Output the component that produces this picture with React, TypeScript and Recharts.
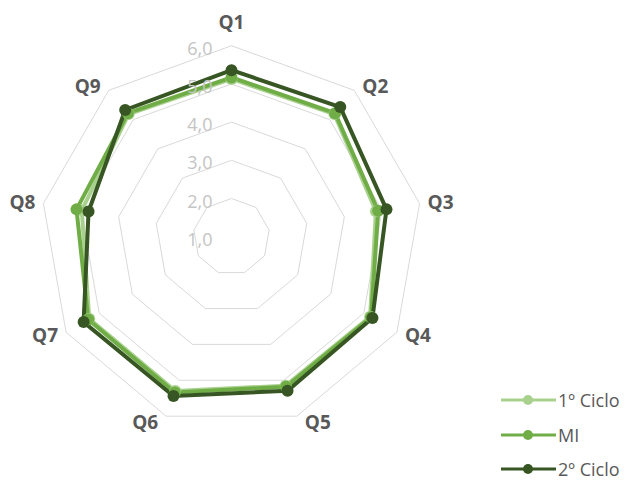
import React from "react";
import {
  RadarChart,
  Radar,
  PolarGrid,
  PolarAngleAxis,
  PolarRadiusAxis,
  Legend,
} from "recharts";

// Questions on the angular axis
const questions = ["Q1", "Q2", "Q3", "Q4", "Q5", "Q6", "Q7", "Q8", "Q9"];

// Mean scores per question for each group
const primeiroCiclo = [5.13, 5.19, 4.84, 5.19, 5.15, 5.3, 5.3, 4.98, 5.19];
const mi = [5.17, 5.22, 4.9, 5.22, 5.18, 5.34, 5.33, 5.12, 5.22];
const segundoCiclo = [5.36, 5.43, 5.12, 5.26, 5.29, 5.44, 5.47, 4.8, 5.33];

// Radial scale
const radiusDomain: [number, number] = [1, 6];
const radiusTicks = [1, 2, 3, 4, 5, 6];

const seriesInfo = [
  { key: "c1", name: "1º Ciclo", color: "#a9d18e" },
  { key: "mi", name: "MI", color: "#70ad47" },
  { key: "c2", name: "2º Ciclo", color: "#375623" },
];

const data = questions.map((q, i) => ({
  q,
  c1: primeiroCiclo[i],
  mi: mi[i],
  c2: segundoCiclo[i],
}));

const W = 630;
const H = 482;
const CX = 231.5;
const CY = 236.7;
const R = 191;
const FONT = "'Open Sans', 'DejaVu Sans', sans-serif";

const fmt = (v: number) => v.toFixed(1).replace(".", ",");

// Category labels sit beside the outer vertex, pushed sideways like a spreadsheet radar
const AngleTick = (props: any) => {
  const { payload } = props;
  const deg = payload.coordinate as number;
  const t = (deg * Math.PI) / 180;
  const c = Math.cos(t);
  const s = Math.sin(t);
  const vx = CX + R * c;
  const vy = CY - R * s;
  let dx: number;
  let dy: number;
  if (Math.abs(c) < 0.1) {
    dx = 0;
    dy = -24;
  } else {
    dx = Math.sign(c) * Math.min(1, Math.abs(c) * 3) * 21;
    dy = -s * 6;
  }
  return (
    <text
      x={vx + dx}
      y={vy + dy}
      textAnchor="middle"
      dominantBaseline="central"
      fontFamily={FONT}
      fontSize={19}
      fontWeight="bold"
      fill="#595959"
    >
      {payload.value}
    </text>
  );
};

const RadiusTick = (props: any) => {
  const { x, y, payload } = props;
  return (
    <text
      x={x - 19}
      y={y + 2}
      textAnchor="end"
      dominantBaseline="central"
      fontFamily={FONT}
      fontSize={18}
      fill="#c4c4c4"
    >
      {fmt(payload.value)}
    </text>
  );
};

const LegendContent = () => (
  <div style={{ fontFamily: FONT, fontSize: 18, color: "#595959" }}>
    {seriesInfo.map((s, i) => (
      <div
        key={s.key}
        style={{
          display: "flex",
          alignItems: "center",
          height: 18,
          marginBottom: i < seriesInfo.length - 1 ? 16.5 : 0,
          whiteSpace: "nowrap",
        }}
      >
        <svg width={55} height={14} style={{ display: "block", flex: "none" }}>
          <line x1={0} y1={7} x2={55} y2={7} stroke={s.color} strokeWidth={3} />
          <circle cx={27} cy={7} r={5} fill={s.color} />
        </svg>
        <span style={{ marginLeft: 2, lineHeight: "18px" }}>{s.name}</span>
      </div>
    ))}
  </div>
);

export default function App() {
  return (
    <div style={{ position: "absolute", left: 0, top: 0, background: "#fff" }}>
      <RadarChart
        width={W}
        height={H}
        data={data}
        cx={CX}
        cy={CY}
        outerRadius={R}
        startAngle={90}
        endAngle={-270}
        margin={{ top: 0, right: 0, bottom: 0, left: 0 }}
      >
        <PolarGrid gridType="polygon" radialLines={false} stroke="#d9d9d9" strokeWidth={1} />
        <PolarAngleAxis
          dataKey="q"
          tick={<AngleTick />}
          tickLine={false}
          axisLine={false}
        />
        <PolarRadiusAxis
          angle={90}
          type="number"
          domain={radiusDomain}
          ticks={radiusTicks as any}
          tickCount={6}
          axisLine={false}
          tickLine={false}
          tick={<RadiusTick />}
        />
        {seriesInfo.map((s) => (
          <Radar
            key={s.key}
            name={s.name}
            dataKey={s.key}
            stroke={s.color}
            strokeWidth={4}
            fill="none"
            fillOpacity={0}
            dot={{ r: 6, fill: s.color, stroke: "none", fillOpacity: 1 }}
            isAnimationActive={false}
          />
        ))}
        <Legend
          content={<LegendContent />}
          wrapperStyle={{ position: "absolute", left: 501, top: 391, width: 128 }}
        />
      </RadarChart>
    </div>
  );
}
